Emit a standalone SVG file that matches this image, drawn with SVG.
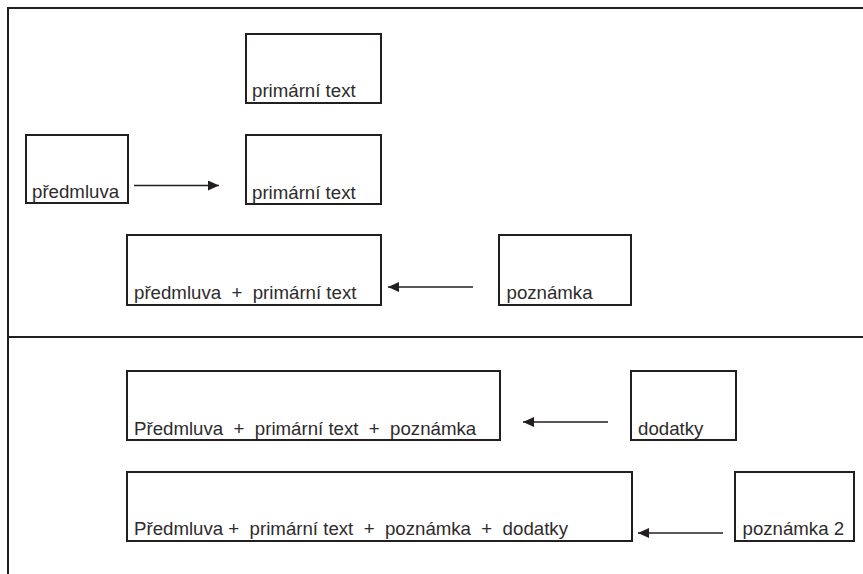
<svg xmlns="http://www.w3.org/2000/svg" width="863" height="574" viewBox="0 0 863 574">
<style>
.frame{stroke:#231f20;stroke-width:2;fill:none}
.box{stroke:#231f20;stroke-width:2;fill:#fff}
.lbl{font-family:"Liberation Sans",Arial,sans-serif;font-size:18.67px;fill:#2e2b2c;white-space:pre}
.conn{stroke:#231f20;stroke-width:1.4;fill:none}
</style>
<defs>
<marker id="ah" markerWidth="11" markerHeight="10" refX="11" refY="5" orient="auto" markerUnits="userSpaceOnUse">
<path d="M0,0 L11,5 L0,10 Z" fill="#231f20"/>
</marker>
</defs>
<rect width="863" height="574" fill="#fff"/>
<g id="frame">
<line class="frame" x1="8" y1="8" x2="863" y2="8"/>
<line class="frame" x1="8" y1="7" x2="8" y2="574"/>
<line class="frame" x1="8" y1="337" x2="863" y2="337"/>
</g>
<g id="primarni1">
<rect class="box" x="246" y="34" width="135" height="69"/>
<text class="lbl" x="252" y="97">primární text</text>
</g>
<g id="predmluva">
<rect class="box" x="26" y="135" width="102" height="68"/>
<text class="lbl" x="32" y="198">předmluva</text>
</g>
<g id="primarni2">
<rect class="box" x="246" y="135" width="135" height="69"/>
<text class="lbl" x="252" y="198.5">primární text</text>
</g>
<g id="predmluva-primarni">
<rect class="box" x="127" y="235" width="254" height="70"/>
<text class="lbl" x="134" y="299" xml:space="preserve">předmluva  +  primární text</text>
</g>
<g id="poznamka">
<rect class="box" x="499" y="235" width="132" height="70"/>
<text class="lbl" x="506.5" y="299">poznámka</text>
</g>
<g id="soucet1">
<rect class="box" x="127" y="371" width="373" height="69"/>
<text class="lbl" x="134" y="435" xml:space="preserve">Předmluva  +  primární text  +  poznámka</text>
</g>
<g id="dodatky">
<rect class="box" x="631" y="371" width="105" height="69"/>
<text class="lbl" x="638" y="435">dodatky</text>
</g>
<g id="soucet2">
<rect class="box" x="127" y="472" width="505" height="69"/>
<text class="lbl" x="134" y="535" xml:space="preserve">Předmluva +  primární text  +  poznámka  +  dodatky</text>
</g>
<g id="poznamka2">
<rect class="box" x="735" y="472" width="119" height="69"/>
<text class="lbl" x="742.5" y="535">poznámka 2</text>
</g>
<g id="connectors">
<line class="conn" x1="134" y1="185.5" x2="219" y2="185.5" marker-end="url(#ah)"/>
<line class="conn" x1="473" y1="287" x2="388" y2="287" marker-end="url(#ah)"/>
<line class="conn" x1="608" y1="422" x2="523" y2="422" marker-end="url(#ah)"/>
<line class="conn" x1="723" y1="533" x2="638" y2="533" marker-end="url(#ah)"/>
</g>
</svg>
